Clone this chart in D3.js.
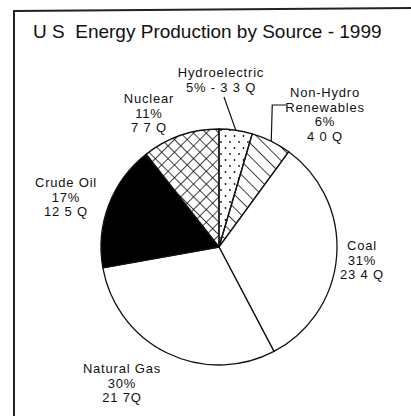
<!DOCTYPE html>
<html>
<head>
<meta charset="utf-8">
<script src="https://cdn.jsdelivr.net/npm/d3@7"></script>
<style>
  body { margin: 0; background: #fff; }
  text { font-family: "Liberation Sans", Arial, sans-serif; fill: #111; }
</style>
</head>
<body>
<div id="chart"></div>
<script>
// data (Quads, 1999)
const sources = ['Hydroelectric', 'Non-Hydro Renewables', 'Coal', 'Natural Gas', 'Crude Oil', 'Nuclear'];
const quads = [3.3, 4.0, 23.4, 21.7, 12.5, 7.7];
const percents = ['5%', '6%', '31%', '30%', '17%', '11%'];
const quadLabels = ['3 3 Q', '4 0 Q', '23 4 Q', '21 7Q', '12 5 Q', '7 7 Q'];

var width = 411, height = 416;
var cx = 219, cy = 247, radius = 118;

var svg = d3.select("#chart").append("svg")
  .attr("width", width)
  .attr("height", height);

// fill patterns (scan style)
var defs = svg.append("defs");

var dots = defs.append("pattern").attr("id", "dots")
  .attr("patternUnits", "userSpaceOnUse").attr("width", 9).attr("height", 12);
dots.append("circle").attr("cx", 2).attr("cy", 3).attr("r", 0.9).attr("fill", "#111");
dots.append("circle").attr("cx", 6.5).attr("cy", 9).attr("r", 0.9).attr("fill", "#111");

// "\" hatch
var diag = defs.append("pattern").attr("id", "diag")
  .attr("patternUnits", "userSpaceOnUse").attr("width", 9.5).attr("height", 10)
  .attr("patternTransform", "rotate(-45)");
diag.append("line").attr("x1", 0).attr("y1", 0).attr("x2", 0).attr("y2", 10)
  .attr("stroke", "#111").attr("stroke-width", 1.6);

var cross = defs.append("pattern").attr("id", "cross")
  .attr("patternUnits", "userSpaceOnUse").attr("width", 9).attr("height", 9)
  .attr("patternTransform", "rotate(45)");
cross.append("line").attr("x1", 0).attr("y1", 0).attr("x2", 0).attr("y2", 9)
  .attr("stroke", "#111").attr("stroke-width", 1.6);
cross.append("line").attr("x1", 0).attr("y1", 0).attr("x2", 9).attr("y2", 0)
  .attr("stroke", "#111").attr("stroke-width", 1.6);

var fills = d3.scaleOrdinal()
  .domain(sources)
  .range(["url(#dots)", "url(#diag)", "#fff", "#fff", "#000", "url(#cross)"]);

// frame (left + top edge only, like the scan)
svg.append("path")
  .attr("d", "M14,416 L14,11 L411,8")
  .attr("fill", "none").attr("stroke", "#222").attr("stroke-width", 2);

// title
svg.append("text")
  .attr("x", 33).attr("y", 38)
  .style("font-size", "19px")
  .style("white-space", "pre")
  .text("U S  Energy Production by Source - 1999");

var pie = d3.pie().sort(null).value(function (d) { return d.value; });
var arc = d3.arc().innerRadius(0).outerRadius(radius);
var data_ready = pie(sources.map(function (s, i) {
  return { key: s, value: quads[i], pct: percents[i], q: quadLabels[i] };
}));

var g = svg.append("g").attr("transform", "translate(" + cx + "," + cy + ")");

g.selectAll("path.slice")
  .data(data_ready)
  .enter().append("path")
  .attr("class", "slice")
  .attr("d", arc)
  .attr("fill", function (d) { return fills(d.data.key); })
  .attr("stroke", "#111")
  .attr("stroke-width", 1.3);

// label layout: anchor of first baseline, per source
var labelPos = {
  'Hydroelectric': { x: 221, y: 77, lines: function (d) { return ['Hydroelectric', d.pct + ' - ' + d.q]; } },
  'Non-Hydro Renewables': { x: 325, y: 97, lines: function (d) { return ['Non-Hydro', 'Renewables', d.pct, d.q]; } },
  'Coal': { x: 362, y: 250, lines: function (d) { return ['Coal', d.pct, d.q]; } },
  'Natural Gas': { x: 122, y: 373, lines: function (d) { return ['Natural Gas', d.pct, d.q]; } },
  'Crude Oil': { x: 66, y: 187, lines: function (d) { return ['Crude Oil', d.pct, d.q]; } },
  'Nuclear': { x: 149, y: 103, lines: function (d) { return ['Nuclear', d.pct, d.q]; } }
};

var labels = svg.append("g").attr("class", "labels");
data_ready.forEach(function (d) {
  var p = labelPos[d.data.key];
  var t = labels.append("text")
    .attr("text-anchor", "middle")
    .style("font-size", "13px")
    .style("letter-spacing", "0.8px");
  p.lines(d.data).forEach(function (line, i) {
    t.append("tspan").attr("x", p.x).attr("y", p.y + i * 14.6).text(line);
  });
});

// leader lines for the two thin slices
function edgePoint(d) {
  var a = (d.startAngle + d.endAngle) / 2;
  return [cx + radius * Math.sin(a), cy - radius * Math.cos(a)];
}
var hydro = data_ready[0], renew = data_ready[1];
var hp = edgePoint(hydro);
svg.append("polyline")
  .attr("points", [[labelPos['Hydroelectric'].x + 3, 97], hp].join(" "))
  .attr("fill", "none").attr("stroke", "#111").attr("stroke-width", 1.2);
var rp = edgePoint(renew);
svg.append("polyline")
  .attr("points", [[labelPos['Non-Hydro Renewables'].x - 39, 105], [rp[0] + 1, 105], rp].join(" "))
  .attr("fill", "none").attr("stroke", "#111").attr("stroke-width", 1.2);
</script>
</body>
</html>
